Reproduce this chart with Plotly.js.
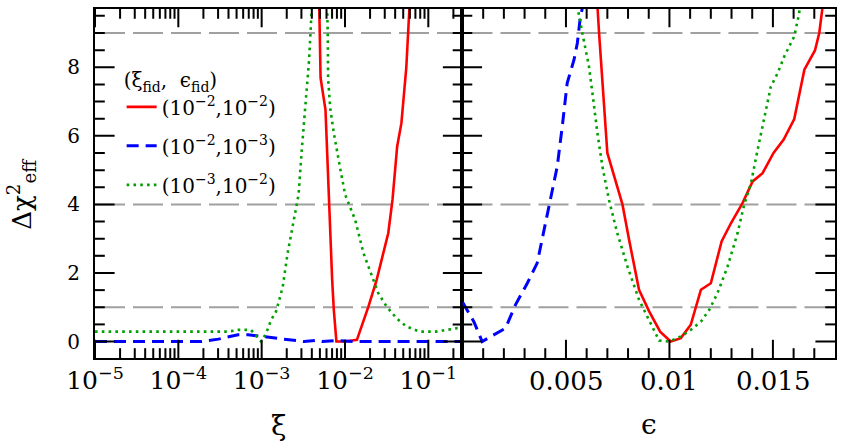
<!DOCTYPE html>
<html>
<head>
<meta charset="utf-8">
<script src="https://cdn.plot.ly/plotly-3.0.1.min.js"></script>
<style>html,body{margin:0;padding:0;background:#fff;}#chart{width:845px;height:442px;}</style>
</head>
<body>
<div id="chart"></div>
<script>
// ---- Left panel: scan in xi (log axis) ----
const xiRed = [0.004808, 0.005093, 0.005834, 0.006397, 0.007015, 0.007345, 0.007889, 0.01009, 0.01390, 0.01910, 0.02399, 0.03304, 0.03715, 0.04227, 0.04753, 0.05445, 0.05970, 0.06166];
const chiRedXi = [11.0, 7.69, 6.76, 4.13, 1.80, 0.92, 0.0, 0.0, 0.05, 1.02, 1.80, 3.16, 4.13, 5.69, 6.37, 8.0, 9.68, 10.5];

const xiBlue = [1e-5, 1.897e-4, 3.02e-4, 5.21e-4, 6.86e-4, 1.08e-3, 1.87e-3, 3.24e-3, 4.68e-3, 5.37e-3, 8.04e-3, 1.26e-2, 0.251];
const chiBlueXi = [0.0, 0.0, 0.07, 0.20, 0.20, 0.15, 0.07, 0.0, 0.04, 0.0, 0.03, 0.0, 0.0];

const xiGreen = [1e-5, 1e-4, 3.972e-4, 5.21e-4, 7.45e-4, 9.86e-4, 1.13e-3, 1.30e-3, 1.49e-3, 1.63e-3, 1.79e-3, 2.05e-3, 2.46e-3, 2.77e-3, 3.03e-3, 3.38e-3, 3.71e-3, 3.98e-3, 4.07e-3, 5.01e-3, 6.0e-3, 6.11e-3, 6.21e-3, 6.28e-3, 6.68e-3, 7.35e-3, 8.04e-3, 8.97e-3, 1.007e-2, 1.107e-2, 1.324e-2, 1.667e-2, 2.19e-2, 2.512e-2, 3.16e-2, 4.15e-2, 5.445e-2, 7.83e-2, 0.1239, 0.163, 0.224, 0.251];
const chiGreenXi = [0.29, 0.29, 0.29, 0.34, 0.34, 0.0, 0.24, 0.63, 0.88, 1.22, 1.60, 2.58, 3.55, 4.28, 5.59, 7.05, 8.22, 9.68, 10.2, 12.0, 10.2, 9.68, 9.0, 7.64, 6.76, 6.08, 5.50, 4.91, 4.28, 4.04, 3.55, 2.58, 1.80, 1.41, 1.02, 0.68, 0.44, 0.29, 0.29, 0.34, 0.39, 0.39];

// ---- Right panel: scan in epsilon (linear axis) ----
const epsRed = [0.00645, 0.00660, 0.00700, 0.00748, 0.00773, 0.00805, 0.00853, 0.00902, 0.00955, 0.01006, 0.01055, 0.01103, 0.01152, 0.01200, 0.01252, 0.01297, 0.01353, 0.01402, 0.01450, 0.01503, 0.01552, 0.01603, 0.01652, 0.01703, 0.01724, 0.01745];
const chiRedEps = [10.5, 9.0, 5.50, 4.48, 4.0, 2.97, 1.51, 0.88, 0.29, 0.0, 0.10, 0.49, 1.51, 1.70, 2.92, 3.45, 4.04, 4.67, 4.91, 5.50, 5.89, 6.49, 7.93, 8.49, 9.0, 10.0];

const epsBlue = [0.0, 0.00055, 0.00095, 0.00208, 0.00256, 0.00313, 0.00361, 0.00394, 0.00426, 0.00458, 0.00482, 0.00506, 0.00539, 0.00555, 0.00568, 0.00579, 0.00587];
const chiBlueEps = [1.15, 0.58, 0.0, 0.39, 1.07, 1.70, 2.29, 3.26, 4.13, 5.11, 6.27, 7.54, 8.22, 8.71, 9.39, 9.73, 10.3];

const epsGreen = [0.00550, 0.00558, 0.00579, 0.00611, 0.00632, 0.00652, 0.00676, 0.00708, 0.00748, 0.00797, 0.00853, 0.00902, 0.00950, 0.00998, 0.01055, 0.01103, 0.01152, 0.01192, 0.01232, 0.01281, 0.01329, 0.01361, 0.01394, 0.01426, 0.01458, 0.01490, 0.01523, 0.01555, 0.01603, 0.01627, 0.01635];
const chiGreenEps = [10.2, 9.68, 9.0, 8.03, 7.05, 6.08, 5.11, 4.13, 3.16, 2.19, 1.22, 0.63, 0.03, 0.0, 0.15, 0.34, 0.58, 0.92, 1.41, 2.19, 3.16, 3.99, 4.62, 5.59, 6.57, 7.44, 7.83, 8.32, 8.90, 9.58, 10.2];

// ---- Labels / ticks / reference levels ----
const seriesNames = ['(10<sup>\u22122</sup>,10<sup>\u22122</sup>)', '(10<sup>\u22122</sup>,10<sup>\u22123</sup>)', '(10<sup>\u22123</sup>,10<sup>\u22122</sup>)'];
const legendTitle = '(\u03BE<sub>fid</sub>,  \u03F5<sub>fid</sub>)';
const yTitle = '\u0394\u03C7<sup>2</sup><sub>eff</sub>';
const yTickVals = [0, 2, 4, 6, 8];
const yTickText = ['0', '2', '4', '6', '8'];
const yMinorVals = [0.5, 1, 1.5, 2.5, 3, 3.5, 4.5, 5, 5.5, 6.5, 7, 7.5, 8.5, 9, 9.5];
const xiTickVals = [1e-5, 1e-4, 1e-3, 1e-2, 1e-1];
const xiMinorVals = [2e-5, 3e-5, 4e-5, 5e-5, 6e-5, 7e-5, 8e-5, 9e-5, 2e-4, 3e-4, 4e-4, 5e-4, 6e-4, 7e-4, 8e-4, 9e-4,
  2e-3, 3e-3, 4e-3, 5e-3, 6e-3, 7e-3, 8e-3, 9e-3, 2e-2, 3e-2, 4e-2, 5e-2, 6e-2, 7e-2, 8e-2, 9e-2, 0.2];
const epsTickVals = [0.005, 0.01, 0.015];
const epsTickText = ['0.005', '0.01', '0.015'];
const epsMinorVals = [0.001, 0.002, 0.003, 0.004, 0.006, 0.007, 0.008, 0.009, 0.011, 0.012, 0.013, 0.014, 0.016, 0.017];
const levels = [1, 4, 9];

const FONT = 'DejaVu Serif';
const red = {color: '#ff0000', width: 2.6};
const blue = {color: '#0000ff', width: 3, dash: '12px,7px'};
const green = {color: '#00a000', width: 2.6, dash: '2.6px,4.2px'};

// axis ranges and plot geometry
const Y_RANGE = [-0.48, 9.7];
const XI_RANGE = [-5, -0.59];      // log10 units
const EPS_RANGE = [0, 0.018];
const W = 845, H = 442, ML = 95, MR = 10, MT = 9, MB = 84;
const SPLIT = 0.4966;
const XI_MIN = 1e-5, XI_MAX = 0.257;

// ---- tick marks as line-shaped markers sitting on the frame (half clipped) ----
function tickMarkers(xa, ya, xs, ys, symbol, size) {
  return {x: xs, y: ys, xaxis: xa, yaxis: ya, mode: 'markers', showlegend: false, hoverinfo: 'skip',
    cliponaxis: true,
    marker: {symbol: symbol, size: size, color: 'black', line: {color: 'black', width: 2}}};
}
function xTicks(xa, ya, vals, size) {
  const xs = [], ys = [];
  vals.forEach(v => { xs.push(v, v); ys.push(Y_RANGE[0], Y_RANGE[1]); });
  return tickMarkers(xa, ya, xs, ys, 'line-ns', size);
}
function yTicks(xa, ya, lo, hi, vals, size) {
  const xs = [], ys = [];
  vals.forEach(v => { xs.push(lo, hi); ys.push(v, v); });
  return tickMarkers(xa, ya, xs, ys, 'line-ew', size);
}

const traces = [
  {x: xiRed, y: chiRedXi, xaxis: 'x', yaxis: 'y', mode: 'lines', line: red, name: seriesNames[0], legendgroup: 'a'},
  {x: xiBlue, y: chiBlueXi, xaxis: 'x', yaxis: 'y', mode: 'lines', line: blue, name: seriesNames[1], legendgroup: 'b'},
  {x: xiGreen, y: chiGreenXi, xaxis: 'x', yaxis: 'y', mode: 'lines', line: green, name: seriesNames[2], legendgroup: 'c'},
  {x: epsRed, y: chiRedEps, xaxis: 'x2', yaxis: 'y2', mode: 'lines', line: red, showlegend: false, legendgroup: 'a'},
  {x: epsBlue, y: chiBlueEps, xaxis: 'x2', yaxis: 'y2', mode: 'lines', line: blue, showlegend: false, legendgroup: 'b'},
  {x: epsGreen, y: chiGreenEps, xaxis: 'x2', yaxis: 'y2', mode: 'lines', line: green, showlegend: false, legendgroup: 'c'},
  xTicks('x', 'y', xiTickVals, 26),
  xTicks('x', 'y', xiMinorVals, 14),
  xTicks('x2', 'y2', epsTickVals, 26),
  xTicks('x2', 'y2', epsMinorVals, 14),
  yTicks('x', 'y', XI_MIN, XI_MAX, yTickVals, 28),
  yTicks('x', 'y', XI_MIN, XI_MAX, yMinorVals, 14),
  yTicks('x2', 'y2', EPS_RANGE[0], EPS_RANGE[1], yTickVals, 28),
  yTicks('x2', 'y2', EPS_RANGE[0], EPS_RANGE[1], yMinorVals, 14)
];

const shapes = [];
levels.forEach(v => {
  [['x domain', 'y'], ['x2 domain', 'y2']].forEach(r => {
    shapes.push({type: 'line', xref: r[0], yref: r[1], x0: 0, x1: 1, y0: v, y1: v, layer: 'below',
      line: {color: '#a0a0a0', width: 2, dash: '30px,8px'}});
  });
});

const annotations = epsTickVals.map((v, i) => ({
  x: v, xref: 'x2', y: -0.066, yref: 'paper', xanchor: 'center', yanchor: 'middle',
  text: epsTickText[i], showarrow: false, font: {family: FONT, size: 26, color: 'black'}
}));
annotations.push({
  x: -0.099, xref: 'paper', y: 0.47, yref: 'paper', xanchor: 'center', yanchor: 'middle',
  text: yTitle, textangle: -90, showarrow: false, font: {family: FONT, size: 26, color: 'black'}
});

function axis(extra) {
  const a = {
    showline: true, linecolor: 'black', linewidth: 2, mirror: true,
    ticks: '', showgrid: false, zeroline: false,
    tickfont: {family: FONT, size: 20, color: 'black'}
  };
  return Object.assign(a, extra);
}

const layout = {
  width: W, height: H,
  margin: {l: ML, r: MR, t: MT, b: MB},
  paper_bgcolor: 'white', plot_bgcolor: 'white',
  font: {family: FONT, size: 20, color: 'black'},
  showlegend: true,
  legend: {
    x: 0.036, y: 0.85, xanchor: 'left', yanchor: 'top',
    bgcolor: 'rgba(0,0,0,0)', borderwidth: 0,
    font: {family: FONT, size: 20, color: 'black'},
    title: {text: legendTitle, font: {family: FONT, size: 20, color: 'black'}},
    itemwidth: 30
  },
  xaxis: axis({
    domain: [0, SPLIT], anchor: 'y', type: 'log', range: XI_RANGE,
    dtick: 1, exponentformat: 'power',
    title: {text: '\u03BE', font: {family: FONT, size: 28, color: 'black'}, standoff: 30}
  }),
  xaxis2: axis({
    domain: [SPLIT, 1], anchor: 'y2', range: EPS_RANGE, showticklabels: false,
    title: {text: '\u03F5', font: {family: FONT, size: 28, color: 'black'}, standoff: 55}
  }),
  yaxis: axis({
    domain: [0, 1], anchor: 'x', range: Y_RANGE,
    tickmode: 'array', tickvals: yTickVals, ticktext: yTickText, ticklabelstandoff: 9
  }),
  yaxis2: axis({
    domain: [0, 1], anchor: 'x2', range: Y_RANGE, showticklabels: false
  }),
  shapes: shapes,
  annotations: annotations
};

Plotly.newPlot('chart', traces, layout, {displayModeBar: false});
</script>
</body>
</html>
